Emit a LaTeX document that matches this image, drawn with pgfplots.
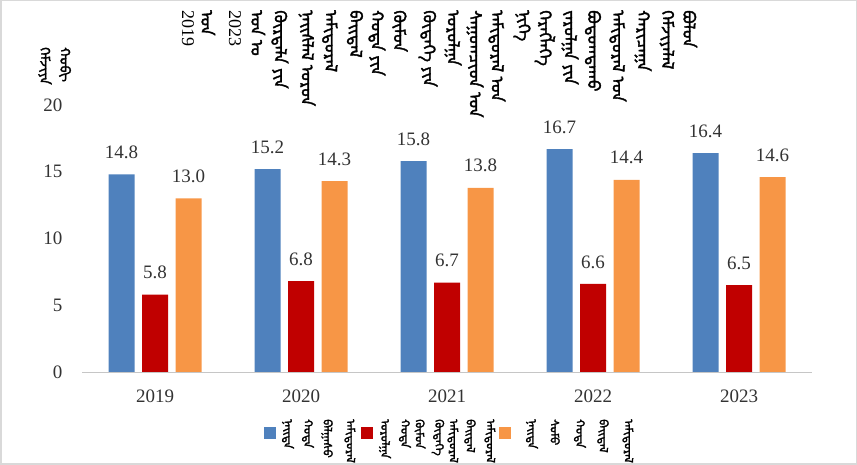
\documentclass[border=0pt]{standalone}
\usepackage{fontspec}
\setmainfont{Liberation Serif}
\usepackage{pgfplots}
\pgfplotsset{compat=1.18}
\IfFontExistsTF{Noto Sans Mongolian}{%
  \newfontfamily\mongol[Script=Mongolian,FakeBold=2]{Noto Sans Mongolian}%
  \newcommand\mn[1]{{\mongol\bfseries #1}}}{%
  \newcommand\mn[1]{}}
\definecolor{cblue}{HTML}{4F81BD}
\definecolor{cred}{HTML}{C00000}
\definecolor{corange}{HTML}{F79646}
\pgfplotstableread{
x blue red orange
0 14.8 5.8 13.0
1 15.2 6.8 14.3
2 15.8 6.7 13.8
3 16.7 6.6 14.4
4 16.4 6.5 14.6
}\datatable
% vertical Mongolian word columns
\newcommand\tw[2]{\node[rotate=-90, anchor=west, inner sep=0pt, font=\fontsize{17}{17}\selectfont] at (#1,455) {\mn{#2}};}
\newcommand\lw[2]{\node[rotate=-90, anchor=west, inner sep=0pt, font=\fontsize{12}{12}\selectfont] at (#1,46) {\mn{#2}};}
\newcommand\yw[2]{\node[rotate=-90, anchor=west, inner sep=0pt, font=\fontsize{14}{14}\selectfont] at (#1,418) {\mn{#2}};}
\begin{document}
\begin{tikzpicture}[x=1pt,y=1pt]
\useasboundingbox (0,0) rectangle (857,465);
\draw[gray!30, line width=1.5pt] (0.75,0.75) rectangle (856.25,464.25);
\begin{axis}[
  at={(155pt,93pt)}, anchor=origin,
  scale only axis, width=730pt, height=267pt,
  xmin=-0.5, xmax=4.5, ymin=0, ymax=20,
  ytick={0,5,10,15,20},
  xtick={0,1,2,3,4},
  xticklabels={2019,2020,2021,2022,2023},
  ybar=7.5pt, bar width=26pt,
  axis lines*=left,
  y axis line style={draw=none},
  x axis line style={draw=gray!45, line width=0.8pt},
  major tick length=0pt,
  /pgf/number format/assume math mode=true,
  tick label style={font=\fontsize{19}{19}\selectfont, text=black!80},
  yticklabel style={xshift=-16pt},
  xticklabel style={yshift=-14pt},
  nodes near coords={\pgfmathprintnumber[fixed,fixed zerofill,precision=1,assume math mode=true]{\pgfplotspointmeta}},
  every node near coord/.append style={font=\fontsize{19}{19}\selectfont, text=black!80, yshift=12pt},
  clip=false,
]
\addplot[fill=cblue, draw=none] table[x=x,y=blue]{\datatable};
\addplot[fill=cred, draw=none] table[x=x,y=red]{\datatable};
\addplot[fill=corange, draw=none] table[x=x,y=orange]{\datatable};
\end{axis}
% y-axis label
\yw{45}{ᠬᠡᠮᠵᠢᠶᠡ}
\yw{65}{ᠬᠤᠪᠢ}
% title
\node[rotate=-90, anchor=west, font=\fontsize{18}{18}\selectfont, inner sep=0pt] at (188,455) {2019};
\tw{208}{ᠣᠨ}
\node[rotate=-90, anchor=west, font=\fontsize{18}{18}\selectfont, inner sep=0pt] at (235,455) {2023};
\tw{258}{ᠣᠨ ᠤ}
\tw{280}{ᠬᠦᠷᠲᠡᠯᠡ ᠶᠢᠨ}
\tw{307}{ᠨᠡᠢᠰᠯᠡᠯ ᠣᠷᠣᠨ}
\tw{330}{ᠠᠮᠢᠳᠤᠷᠠᠯ}
\tw{355}{ᠪᠠᠢᠳᠠᠯ}
\tw{377}{ᠬᠣᠲᠠ ᠶᠢᠨ}
\tw{400}{ᠬᠦᠮᠦᠨ}
\tw{428}{ᠬᠥᠳᠡᠭᠡ ᠶᠢᠨ}
\tw{453}{ᠣᠷᠣᠯᠭᠠ}
\tw{475}{ᠰᠠᠭᠤᠭᠴᠢᠳ ᠤᠨ}
\tw{497}{ᠠᠮᠢᠳᠤᠷᠠᠯ ᠤᠨ}
\tw{522}{ᠨᠢᠭᠡ}
\tw{545}{ᠬᠡᠷᠡᠭᠯᠡᠭᠡ}
\tw{570}{ᠵᠠᠷᠤᠯᠭᠠ ᠶᠢᠨ}
\tw{593}{ᠪᠣᠳᠣᠭᠳᠠᠬᠤ}
\tw{618}{ᠠᠮᠢᠳᠤᠷᠠᠯ ᠤᠨ}
\tw{643}{ᠬᠠᠷᠢᠴᠠᠭᠠ}
\tw{667}{ᠬᠡᠮᠵᠢᠶᠡᠯᠡᠯ}
\tw{690}{ᠪᠣᠯᠤᠨ}
% legend keys
\fill[cblue] (264,26) rectangle (276,38);
\fill[cred] (361,26) rectangle (373,38);
\fill[corange] (499,26) rectangle (511,38);
% legend texts
\lw{288}{ᠨᠡᠢᠲᠡ}
\lw{308}{ᠬᠣᠲᠠ}
\lw{327}{ᠪᠠᠯᠭᠠᠰᠤ}
\lw{350}{ᠠᠮᠢᠳᠤᠷᠠᠯ}
\lw{385}{ᠣᠷᠣᠯᠭᠠ}
\lw{405}{ᠬᠣᠲᠠ}
\lw{420}{ᠬᠦᠮᠦᠨ}
\lw{438}{ᠬᠥᠳᠡᠭᠡ}
\lw{453}{ᠠᠮᠢᠳᠤᠷᠠᠯ}
\lw{470}{ᠪᠠᠢᠳᠠᠯ}
\lw{490}{ᠠᠮᠢᠳᠤᠷᠠᠯ}
\lw{532}{ᠨᠡᠢᠲᠡ}
\lw{555}{ᠰᠤᠮᠤ}
\lw{580}{ᠬᠣᠲᠠ}
\lw{603}{ᠪᠠᠢᠳᠠᠯ}
\lw{628}{ᠠᠮᠢᠳᠤᠷᠠᠯ}
\end{tikzpicture}
\end{document}
